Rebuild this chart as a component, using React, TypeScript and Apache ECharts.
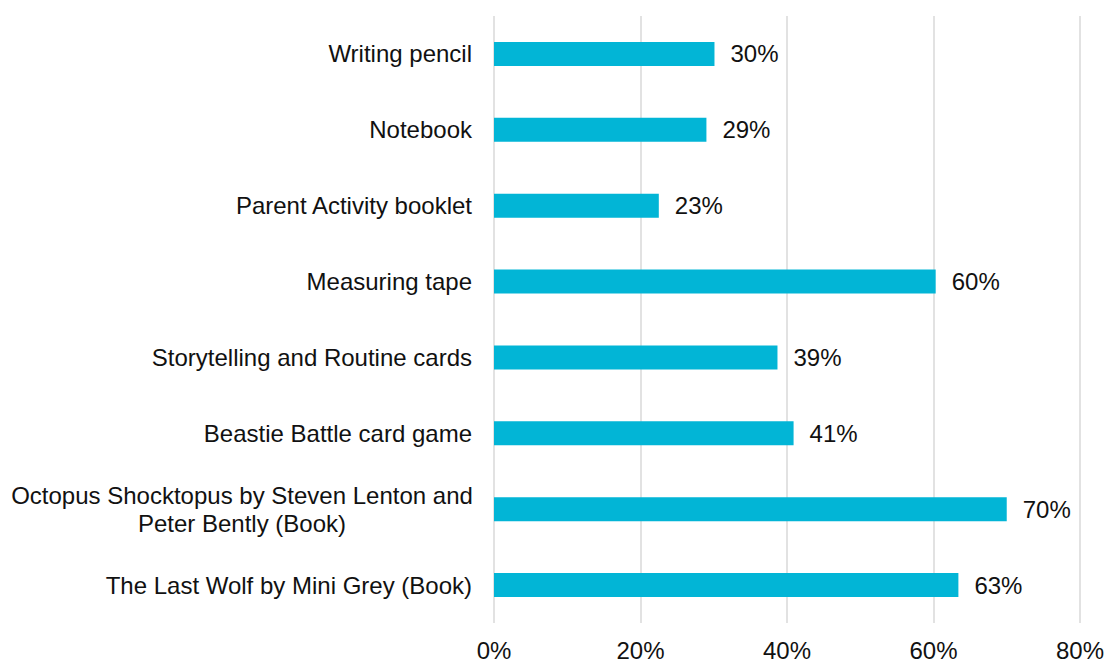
import React, { useEffect, useRef } from "react";
import * as echarts from "echarts";

const categories: string[] = [
  "Writing pencil",
  "Notebook",
  "Parent Activity booklet",
  "Measuring tape",
  "Storytelling and Routine cards",
  "Beastie Battle card game",
  "Octopus Shocktopus by Steven Lenton and\nPeter Bently (Book)",
  "The Last Wolf by Mini Grey (Book)",
];

const values: number[] = [30.1, 29.0, 22.5, 60.3, 38.7, 40.9, 70.0, 63.4];

const xTicks = { min: 0, max: 80, interval: 20 };

const BAR_COLOR = "#02B5D6";
const TEXT_COLOR = "#111111";
const GRID_COLOR = "#D9D9D9";
const FONT = "Liberation Sans";
const FS = 24;

export default function App() {
  const ref = useRef<HTMLDivElement>(null);

  useEffect(() => {
    if (!ref.current) return;
    const chart = echarts.init(ref.current, undefined, { renderer: "svg" });
    chart.setOption({
      animation: false,
      backgroundColor: "#ffffff",
      grid: { left: 494, right: 26, top: 16, bottom: 39, containLabel: false },
      xAxis: {
        type: "value",
        min: xTicks.min,
        max: xTicks.max,
        interval: xTicks.interval,
        axisLine: { show: false },
        axisTick: { show: false },
        splitLine: { show: true, lineStyle: { color: GRID_COLOR, width: 1.5 } },
        axisLabel: {
          formatter: (v: number) => `${v}%`,
          color: TEXT_COLOR,
          fontFamily: FONT,
          fontSize: FS,
          margin: 15,
        },
      },
      yAxis: {
        type: "category",
        inverse: true,
        data: categories,
        axisLine: { show: false },
        axisTick: { show: false },
        splitLine: { show: false },
        axisLabel: {
          color: TEXT_COLOR,
          fontFamily: FONT,
          fontSize: FS,
          margin: 22,
          align: "right",
          lineHeight: 28,
          formatter: (v: string) =>
            v.includes("\n")
              ? v
                  .split("\n")
                  .map((l) => `{c|${l}}`)
                  .join("\n")
              : v,
          rich: {
            c: {
              width: 460,
              align: "center",
              color: TEXT_COLOR,
              fontFamily: FONT,
              fontSize: FS,
              lineHeight: 28,
            },
          },
        },
      },
      series: [
        {
          type: "bar",
          data: values,
          barWidth: 24,
          itemStyle: { color: BAR_COLOR },
          label: {
            show: true,
            position: "right",
            distance: 16,
            formatter: (p: any) => `${Math.round(p.value)}%`,
            color: TEXT_COLOR,
            fontFamily: FONT,
            fontSize: FS,
          },
        },
      ],
    });
    return () => chart.dispose();
  }, []);

  return (
    <div
      ref={ref}
      style={{ position: "fixed", left: 0, top: 0, width: 1107, height: 662 }}
    />
  );
}
